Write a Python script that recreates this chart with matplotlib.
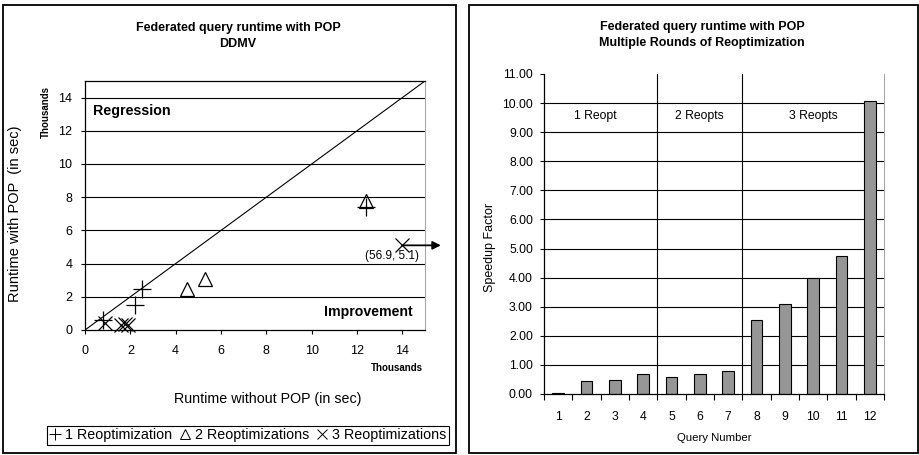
import numpy as np
import matplotlib
matplotlib.use("Agg")
import matplotlib.pyplot as plt
from matplotlib.patches import Rectangle
from matplotlib.lines import Line2D

plt.rcParams['font.family'] = ['Liberation Sans', 'DejaVu Sans']

# left chart: runtimes in thousands of seconds
reopt1_without = [0.8, 2.2, 2.5, 12.4]
reopt1_with = [0.6, 1.5, 2.5, 7.4]
reopt2_without = [4.5, 5.3, 12.4]
reopt2_with = [2.5, 3.1, 7.8]
reopt3_without = [0.9, 1.6, 1.75, 1.9, 56.9]
reopt3_with = [0.4, 0.3, 0.35, 0.3, 5.1]
x_cap = 14.0  # off-scale point gets drawn at the edge with an arrow

# right chart: speedup per query
queries = list(range(1, 13))
speedup = [0.03, 0.45, 0.48, 0.68, 0.60, 0.70, 0.80, 2.53, 3.08, 3.98, 4.73, 10.08]
groups = ['1 Reopt', '2 Reopts', '3 Reopts']
group_sizes = [4, 3, 5]

W, H = 920, 455
fig = plt.figure(figsize=(W / 100, H / 100), dpi=100)


def px(x, y):
    return x / W, 1 - y / H


def axbox(l, t, r, b):
    return [l / W, 1 - b / H, (r - l) / W, (b - t) / H]


# panel frames
for l, r in [(3, 456), (469, 918)]:
    fig.add_artist(Rectangle(px(l, 453), (r - l) / W, 448 / H, transform=fig.transFigure,
                             fill=False, ec='black', lw=1.3))

# ---------------- left chart ----------------
ax = fig.add_axes(axbox(85, 81, 425, 330))
ax.set_xlim(0, 15)
ax.set_ylim(0, 15)
for yy in range(2, 15, 2):
    ax.axhline(yy, color='black', lw=0.8, zorder=1)
ax.plot([0, 15], [0, 15], color='black', lw=0.8, zorder=1)

mk = dict(color='black', linestyle='none', clip_on=False, zorder=3)
ax.plot(reopt1_without, reopt1_with, marker='+', ms=13, mew=0.9, **mk)
ax.plot(reopt2_without, reopt2_with, marker='^', ms=10, mew=0.9, mfc='none', **mk)
x3 = np.minimum(reopt3_without, x_cap)
ax.plot(x3, reopt3_with, marker='x', ms=10, mew=0.9, **mk)

ax.annotate('', xy=(15.7, reopt3_with[-1]), xytext=(x3[-1], reopt3_with[-1]),
            arrowprops=dict(arrowstyle='-|>', color='black', lw=1.3, mutation_scale=12,
                            shrinkA=0, shrinkB=0),
            annotation_clip=False)
ax.text(13.55, 4.45, '(%.1f, %.1f)' % (reopt3_without[-1], reopt3_with[-1]),
        ha='center', va='center', fontsize=8.5)

ax.text(0.35, 13.2, 'Regression', fontsize=10.3, fontweight='bold', va='center', ha='left')
ax.text(14.45, 1.1, 'Improvement', fontsize=10.2, fontweight='bold', va='center', ha='right')

ax.set_xticks(range(0, 15, 2))
ax.set_yticks(range(0, 15, 2))
ax.tick_params(axis='both', direction='out', length=3, width=0.8, labelsize=9)
ax.tick_params(axis='x', pad=8)
ax.tick_params(axis='y', pad=6)
for s in ['left', 'top', 'bottom']:
    ax.spines[s].set_linewidth(0.9)
ax.spines['right'].set_color('#a8a8a8')

fig.text(*px(238, 36), 'Federated query runtime with POP\nDDMV', ha='center', va='center',
         fontsize=9, fontweight='bold', linespacing=1.4)
fig.text(*px(46, 112), 'Thousands', rotation=90, ha='center', va='center',
         fontsize=7, fontweight='bold')
fig.text(*px(397, 368), 'Thousands', ha='center', va='center', fontsize=7, fontweight='bold')
fig.text(*px(15, 214), 'Runtime with POP  (in sec)', rotation=90, ha='center', va='center',
         fontsize=10.5)
fig.text(*px(268, 399), 'Runtime without POP (in sec)', ha='center', va='center', fontsize=10.3)

handles = [
    Line2D([], [], marker='+', ms=9, mew=0.7, color='black', linestyle='none'),
    Line2D([], [], marker='^', ms=7, mew=0.7, mfc='none', color='black', linestyle='none'),
    Line2D([], [], marker='x', ms=7, mew=0.7, color='black', linestyle='none'),
]
leg = fig.legend(handles, ['1 Reoptimization', '2 Reoptimizations', '3 Reoptimizations'],
                 ncol=3, loc='center', bbox_to_anchor=px(248, 435.5), fontsize=10.3,
                 handlelength=0.8, handletextpad=0.3, columnspacing=0.5,
                 borderpad=0.2, borderaxespad=0, fancybox=False, framealpha=1)
leg.get_frame().set_edgecolor('black')
leg.get_frame().set_linewidth(0.8)

# ---------------- right chart ----------------
bx = fig.add_axes(axbox(544, 74, 884, 394))
bx.set_xlim(0.5, 12.5)
bx.set_ylim(0, 11)
for yy in range(1, 11):
    bx.axhline(yy, color='black', lw=0.8, zorder=1)
edges = np.cumsum(group_sizes)[:-1] + 0.5
for e in edges:
    bx.axvline(e, color='black', lw=0.8, zorder=1)
bx.bar(queries, speedup, width=0.42, color='#969696', edgecolor='black', lw=0.8, zorder=2)

label_x = [2.3, 6.0, 10.0]
for g, lx in zip(groups, label_x):
    bx.text(lx, 9.55, g, ha='center', va='center', fontsize=8.8)

bx.set_yticks(range(0, 12))
bx.set_yticklabels(['%.2f' % v for v in range(0, 12)])
bx.set_xticks(np.arange(0.5, 13, 1))
bx.set_xticklabels([])
bx.set_xticks(queries, minor=True)
bx.set_xticklabels([str(q) for q in queries], minor=True)
bx.tick_params(axis='x', which='major', direction='out', length=4, width=0.8)
bx.tick_params(axis='x', which='minor', length=0, pad=12, labelsize=8.8)
bx.tick_params(axis='y', direction='out', length=3, width=0.8, labelsize=8.8, pad=5)
bx.spines['top'].set_visible(False)
bx.spines['right'].set_color('#a8a8a8')
bx.spines['left'].set_linewidth(0.9)
bx.spines['bottom'].set_linewidth(0.9)

fig.text(*px(702, 35), 'Federated query runtime with POP\nMultiple Rounds of Reoptimization',
         ha='center', va='center', fontsize=9, fontweight='bold', linespacing=1.4)
fig.text(*px(490, 247), 'Speedup Factor', rotation=90, ha='center', va='center', fontsize=9)
fig.text(*px(714, 438), 'Query Number', ha='center', va='center', fontsize=8.2)

fig.savefig('out.png', dpi=100)
